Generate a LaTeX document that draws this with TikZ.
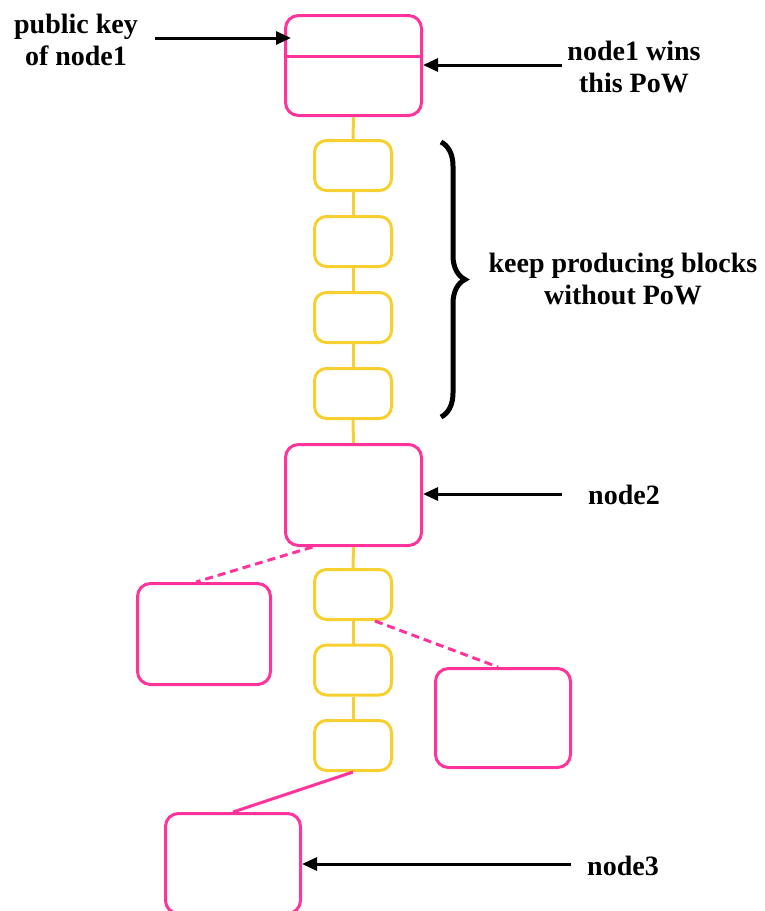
\documentclass[tikz,border=0pt]{standalone}
\usepackage{fontspec}
\setmainfont{Liberation Serif}
\usetikzlibrary{arrows.meta,decorations.pathreplacing}
\definecolor{pinkc}{RGB}{255,51,153}
\definecolor{yellowc}{RGB}{247,208,48}
\tikzset{
  pinkbox/.style={draw=pinkc, line width=3pt, rounded corners=13pt, inner sep=0pt, minimum width=136pt, minimum height=100pt},
  yellowbox/.style={draw=yellowc, line width=3pt, rounded corners=12pt, inner sep=0pt, minimum width=77pt, minimum height=50pt},
  yline/.style={draw=yellowc, line width=3pt},
  pline/.style={draw=pinkc, line width=3pt},
  pdash/.style={draw=pinkc, line width=3pt, dash pattern=on 8pt off 5pt},
  arr/.style={draw=black, line width=3pt, -{Triangle[length=15pt,width=13pt]}},
  lbl/.style={font=\bfseries\fontsize{28}{32}\selectfont, align=center, inner sep=0pt},
}
\begin{document}
\begin{tikzpicture}[x=1pt,y=-1pt]
\useasboundingbox (0,0) rectangle (765,911);
% boxes
\node[pinkbox] (top) at (353.5,65.5) {};
\coordinate (div) at (353.5,56);
\draw[pline] (top.west |- div) -- (top.east |- div);
\node[yellowbox] (y1) at (353,165.5) {};
\node[yellowbox] (y2) at (353,241.5) {};
\node[yellowbox] (y3) at (353,317.5) {};
\node[yellowbox] (y4) at (353,393.5) {};
\node[pinkbox, minimum height=101pt] (n2) at (353.5,495) {};
\node[yellowbox] (y5) at (353,594.5) {};
\node[yellowbox] (y6) at (353,670) {};
\node[yellowbox] (y7) at (353,745.5) {};
\node[pinkbox, minimum width=133pt, minimum height=101pt] (lb) at (204,634) {};
\node[pinkbox, minimum width=135pt, minimum height=99pt] (rb) at (503,718) {};
\node[pinkbox, minimum width=135pt] (bb) at (233,863.5) {};
% chain
\draw[yline] (top.south) -- (y1.north);
\draw[yline] (y1.south) -- (y2.north);
\draw[yline] (y2.south) -- (y3.north);
\draw[yline] (y3.south) -- (y4.north);
\draw[yline] (y4.south) -- (n2.north);
\draw[yline] (n2.south) -- (y5.north);
\draw[yline] (y5.south) -- (y6.north);
\draw[yline] (y6.south) -- (y7.north);
\draw[pdash] ([xshift=-41pt]n2.south) -- ([xshift=-8pt]lb.north);
\draw[pdash] ([xshift=22pt]y5.south) -- ([xshift=-5pt]rb.north);
\draw[pline] (y7.south) -- (bb.north);
% brace
\draw[decorate, decoration={brace, amplitude=24pt}, line width=5pt] (441,142) -- (441,417);
% labels
\node[lbl] (t1) at (76,40) {public key\\of node1};
\node[lbl] (t2) at (634,67) {node1 wins\\this PoW};
\node[lbl] (t3) at (623,279) {keep producing blocks\\without PoW};
\node[lbl] (t4) at (624,495) {node2};
\node[lbl] (t5) at (623,866) {node3};
% arrows
\coordinate (a1) at (155,38);
\coordinate (a2) at (562,65);
\coordinate (a3) at (562,494);
\coordinate (a4) at (571,864);
\draw[arr, shorten >=-7pt] (a1) -- (a1 -| top.west);
\draw[arr] (a2) -- (a2 -| top.east);
\draw[arr] (a3) -- (a3 -| n2.east);
\draw[arr] (a4) -- (a4 -| bb.east);
\end{tikzpicture}
\end{document}
